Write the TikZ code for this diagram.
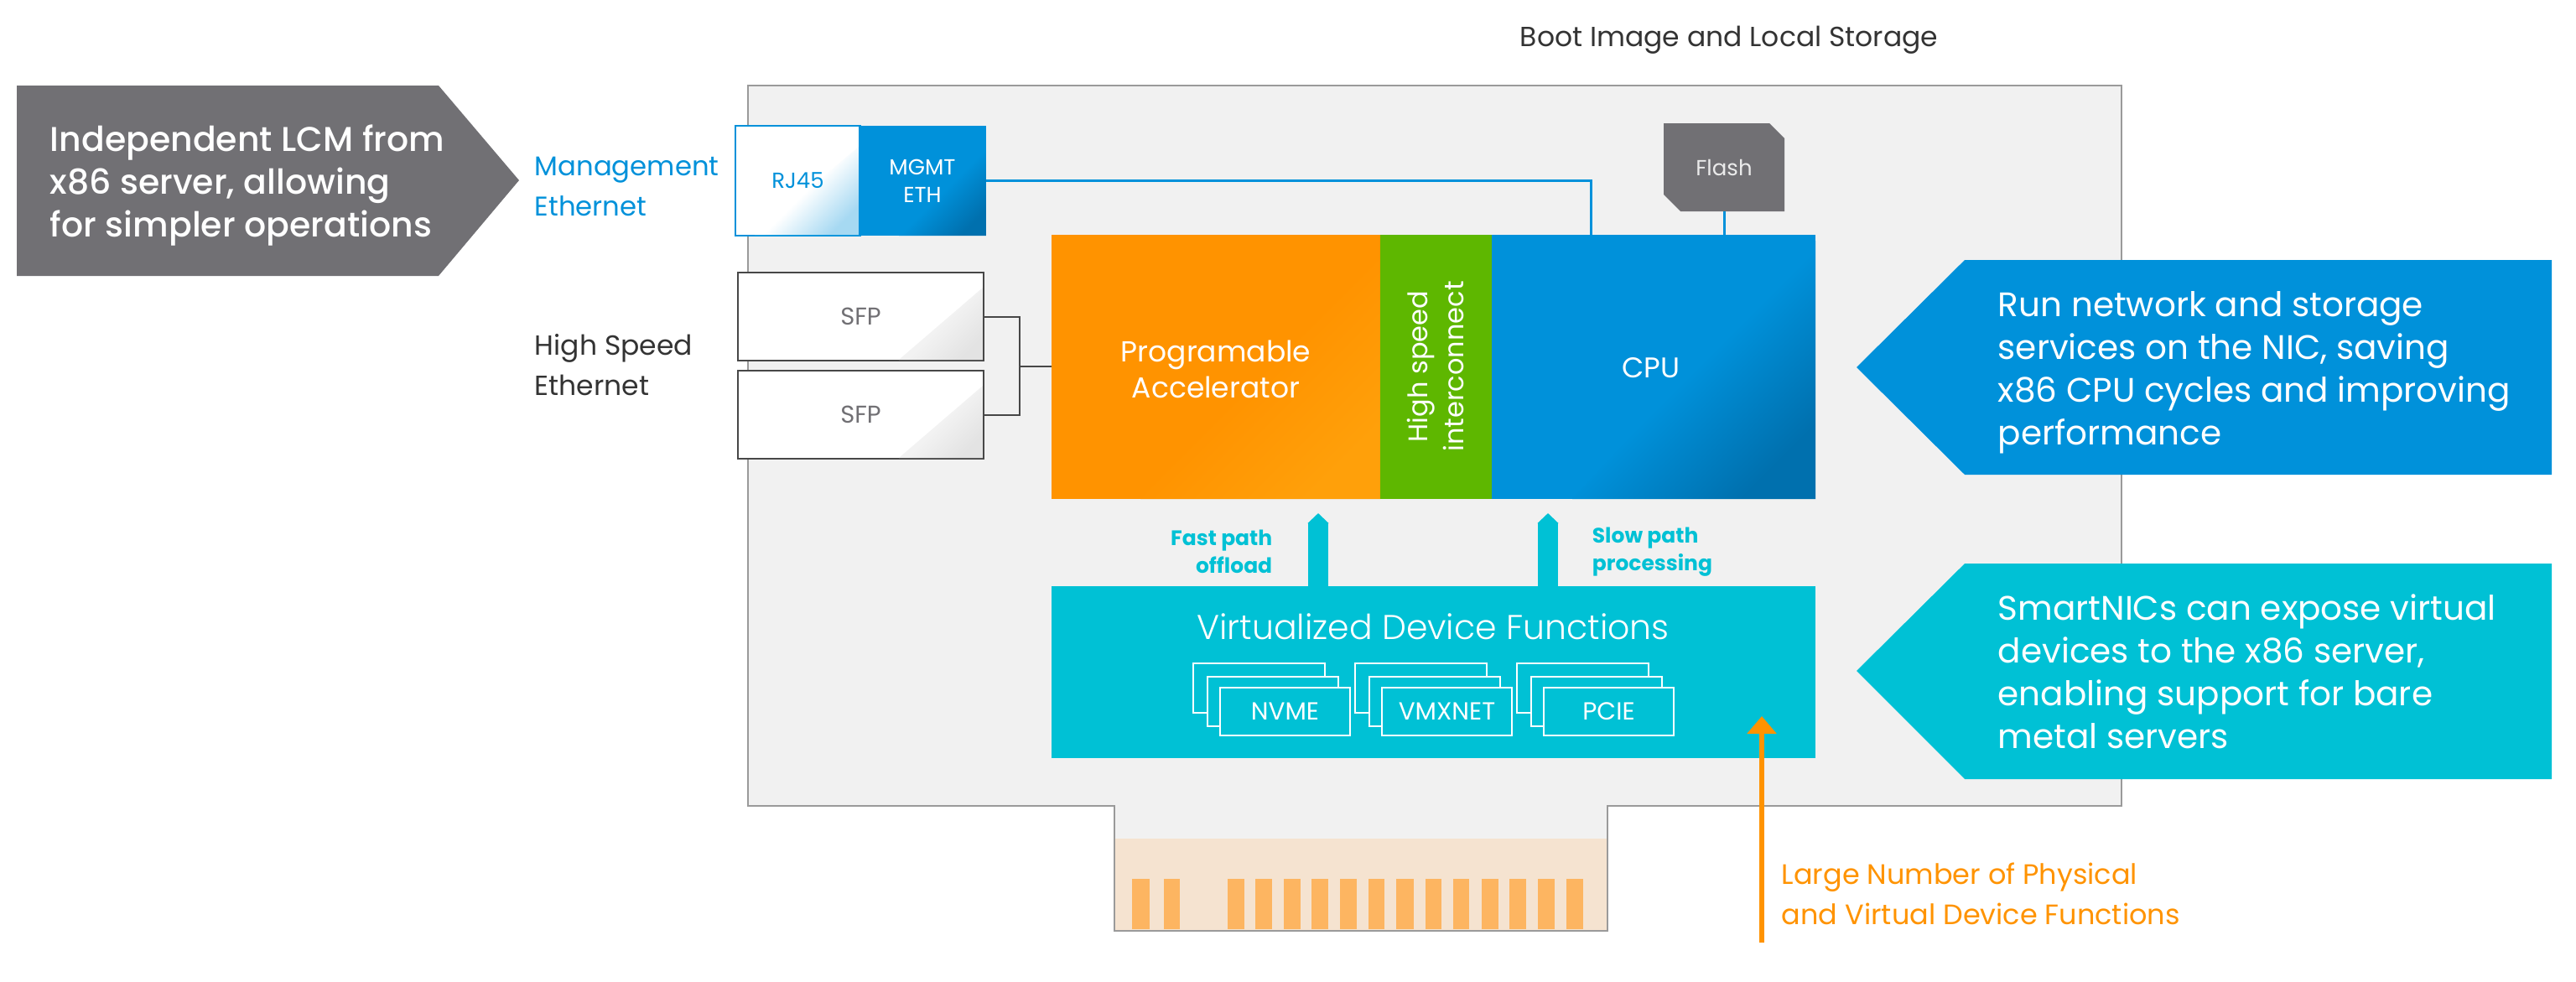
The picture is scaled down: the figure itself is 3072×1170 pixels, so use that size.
\documentclass[tikz,border=0pt]{standalone}
\usepackage{fontspec}
\setmainfont{Poppins}
\newfontfamily\popmed{Poppins Medium}
\newfontfamily\poplight{Poppins Light}
\usetikzlibrary{arrows.meta,calc}
\definecolor{vblue}{HTML}{0091DA}
\definecolor{vdark}{HTML}{0070AE}
\definecolor{vteal}{HTML}{00C1D5}
\definecolor{vorange}{HTML}{FF9300}
\definecolor{vlight}{HTML}{FFA00A}
\definecolor{vgreen}{HTML}{5EB700}
\definecolor{vgray}{HTML}{717074}
\definecolor{vboard}{HTML}{F1F1F1}
\definecolor{vedge}{HTML}{9A9A9A}
\definecolor{vtext}{HTML}{333333}
\definecolor{vfinger}{HTML}{F5E3D0}
\definecolor{vpad}{HTML}{FDB561}
\newcommand{\fpx}[2]{\fontsize{\the\dimexpr#1pt/4\relax}{\the\dimexpr#2pt/4\relax}\selectfont}
% \bnode{name}{x1}{y1}{x2}{y2}{style}{text}
\newcommand{\bnode}[7]{%
  \pgfmathsetmacro{\bw}{((#4)-(#2))*0.25}\pgfmathsetmacro{\bh}{((#5)-(#3))*0.25}%
  \node[anchor=north west,inner sep=0pt,outer sep=0pt,minimum width=\bw pt,minimum height=\bh pt,#6] (#1) at (#2,#3) {#7};}
% diagonal shade in lower right corner
\newcommand{\dshade}[8]{%
  \begin{scope}\clip (#1,#2) -- (#3,#4) -- (#5,#6) -- cycle;
  \shade[shading=axis,left color=#7,right color=#8,middle color=#7,shading angle=45]
     (#5,#2) rectangle (#3,#4);\end{scope}}
\tikzset{
  lbl/.style={inner sep=0pt,align=left,font=\fpx{33}{48}},
  lblblue/.style={lbl,text=vblue},
  lbldark/.style={lbl,text=vtext},
  call/.style={inner sep=0pt,align=left,text=white,font=\fpx{40.5}{51}},
  sfp/.style={draw=vtext!90,line width=0.5pt,fill=white,text=vgray,font=\fpx{25}{30}},
  stackbox/.style={draw=white,line width=0.6pt,fill=vteal,text=white,font=\fpx{29.5}{30}},
  link/.style={line width=0.75pt,draw=vblue},
  sfplink/.style={line width=0.5pt,draw=vtext!90},
  tealarrow/.style={line width=6.1pt,draw=vteal,-{Triangle[length=3pt,width=6.1pt,sep=0pt]}},
  orangearrow/.style={line width=1.6pt,draw=vorange,-{Triangle[length=5.2pt,width=8.5pt]}},
  pad/.style={fill=vpad},
}
\begin{document}
\begin{tikzpicture}[x=0.25pt,y=-0.25pt]
\useasboundingbox (0,0) rectangle (3072,1170);
% board
\fill[vboard] (892,102) -- (2530,102) -- (2530,961) -- (1917,961) -- (1917,1110) -- (1329,1110) -- (1329,961) -- (892,961) -- cycle;
\fill[vfinger] (1329,1000) rectangle (1917,1110);
\foreach \a/\b in {112/158,197/240,367/411,441/485,518/562,592/636,667/713,744/787,818/864,895/939,969/1012,1046/1090,1120/1164,1197/1241,1272/1316}
  \fill[pad] ({1300+\a/2.24},1048) rectangle ({1300+\b/2.24},1108);
\draw[vedge,line width=0.6pt,line join=miter] (892,102) -- (2530,102) -- (2530,961) -- (1917,961) -- (1917,1110) -- (1329,1110) -- (1329,961) -- (892,961) -- cycle;
% left callout
\fill[vgray] (20,102) -- (523,102) -- (619,215) -- (523,329) -- (20,329) -- cycle;
\node[call,anchor=west,font=\popmed\fpx{41}{51}] (lcm) at (59,221) {Independent LCM from\\x86 server, allowing\\for simpler operations};
% right callouts
\fill[vblue] (2214,438) -- (2343,310) -- (3043,310) -- (3043,566) -- (2343,566) -- cycle;
\node[call,anchor=west] (run) at (2382,444) {Run network and storage\\services on the NIC, saving\\x86 CPU cycles and improving\\performance};
\fill[vteal] (2214,800) -- (2343,672) -- (3043,672) -- (3043,929) -- (2343,929) -- cycle;
\node[call,anchor=west] (smart) at (2382,801) {SmartNICs can expose virtual\\devices to the x86 server,\\enabling support for bare\\metal servers};
% labels
\node[lbldark,anchor=west] (boot) at (1812,48) {Boot Image and Local Storage};
\node[lblblue,anchor=west,font=\fpx{32.3}{48}] (mgmtlbl) at (637,222) {Management\\Ethernet};
\node[lbldark,anchor=west] (hslbl) at (637,435) {High Speed\\Ethernet};
% RJ45 / MGMT
\bnode{rj}{877}{150}{1026}{281}{draw=vblue,line width=0.6pt,fill=white}{}
\dshade{1024}{175}{1024}{280}{900}{280}{white}{vblue!35}
\node[text=vblue,font=\fpx{26}{30}] at (rj.center) {RJ45};
\bnode{eth}{1024}{150}{1176}{281}{fill=vblue}{}
\dshade{1176}{177}{1176}{281}{1072}{281}{vblue}{vdark}
\node[text=white,align=center,font=\fpx{26}{33}] at (eth.center) {MGMT\\ETH};
% SFP
\bnode{sfpa}{880}{325}{1173}{430}{sfp}{}
\dshade{1172}{343}{1172}{429}{1072}{429}{black!5}{black!11}
\node[text=vgray,font=\fpx{29}{30}] at (sfpa.center) {SFP};
\bnode{sfpb}{880}{442}{1173}{547}{sfp}{}
\dshade{1172}{460}{1172}{546}{1072}{546}{black!5}{black!11}
\node[text=vgray,font=\fpx{29}{30}] at (sfpb.center) {SFP};
% core blocks
\bnode{acc}{1254}{280}{1646}{595}{fill=vorange}{}
\dshade{1646}{290}{1646}{595}{1360}{595}{vorange}{vlight}
\node[text=white,align=center,font=\fpx{34.5}{43}] at (1450,440) {Programable\\Accelerator};
\bnode{hsi}{1646}{280}{1779}{595}{fill=vgreen}{}
\node[text=white,align=center,rotate=90,font=\fpx{32}{43}] at (1712,437) {High speed\\interconnect};
\bnode{cpu}{1779}{280}{2165}{595}{fill=vblue}{}
\dshade{2165}{287}{2165}{595}{1875}{595}{vblue}{vdark}
\node[text=white,font=\fpx{34}{43}] at (1969,439) {CPU};
% flash
\fill[vgray] (1984,147) -- (2110,147) -- (2128,165) -- (2128,252) -- (2004,252) -- (1984,232) -- cycle;
\bnode{flash}{1984}{147}{2128}{252}{text=white!85!vgray,font=\fpx{26}{30}}{Flash}
% VDF
\bnode{vdf}{1254}{699}{2165}{904}{fill=vteal}{}
\node[text=white,font=\poplight\fpx{41}{44}] (vdflbl) at (1709,747) {Virtualized Device Functions};
\foreach \n/\x/\t in {nv/1423/NVME,vm/1616/VMXNET,pc/1809/PCIE}{
  \bnode{\n c}{\x}{791}{\x+157}{850}{stackbox}{}
  \bnode{\n b}{\x+17}{807}{\x+173}{866}{stackbox}{}
  \bnode{\n a}{\x+32}{820}{\x+187}{877}{stackbox}{\t}
}
% connectors
\coordinate (mgmtdrop) at (1897,280);
\draw[link] (eth.east) -| (mgmtdrop);
\coordinate (flashdrop) at (cpu.north -| flash.south);
\draw[link] (flash.south) -- (flashdrop);
\coordinate (sfpjoin) at (1216,437);
\draw[sfplink] (sfpa.east) -| (sfpjoin);
\draw[sfplink] (sfpb.east) -| (sfpjoin);
\draw[sfplink] (sfpjoin) -- (sfpjoin -| acc.west);
\coordinate (fa) at (1572,699); \coordinate (fb) at (1572,612);
\coordinate (sa) at (1846,699); \coordinate (sb) at (1846,612);
\draw[tealarrow] (fa) -- (fb);
\draw[tealarrow] (sa) -- (sb);
\node[anchor=east,align=right,inner sep=0pt,text=vteal,font=\bfseries\fpx{25}{33}] (fast) at (1518,658) {Fast path\\offload};
\node[anchor=west,align=left,inner sep=0pt,text=vteal,font=\bfseries\fpx{25}{33}] (slow) at (1898,658) {Slow path\\processing};
\coordinate (oa) at (2101,1124); \coordinate (ob) at (2101,854);
\draw[orangearrow] (oa) -- (ob);
\node[anchor=west,align=left,inner sep=0pt,text=vorange,font=\fpx{33.5}{48}] (large) at (2124,1066) {Large Number of Physical\\and Virtual Device Functions};
\end{tikzpicture}
\end{document}
